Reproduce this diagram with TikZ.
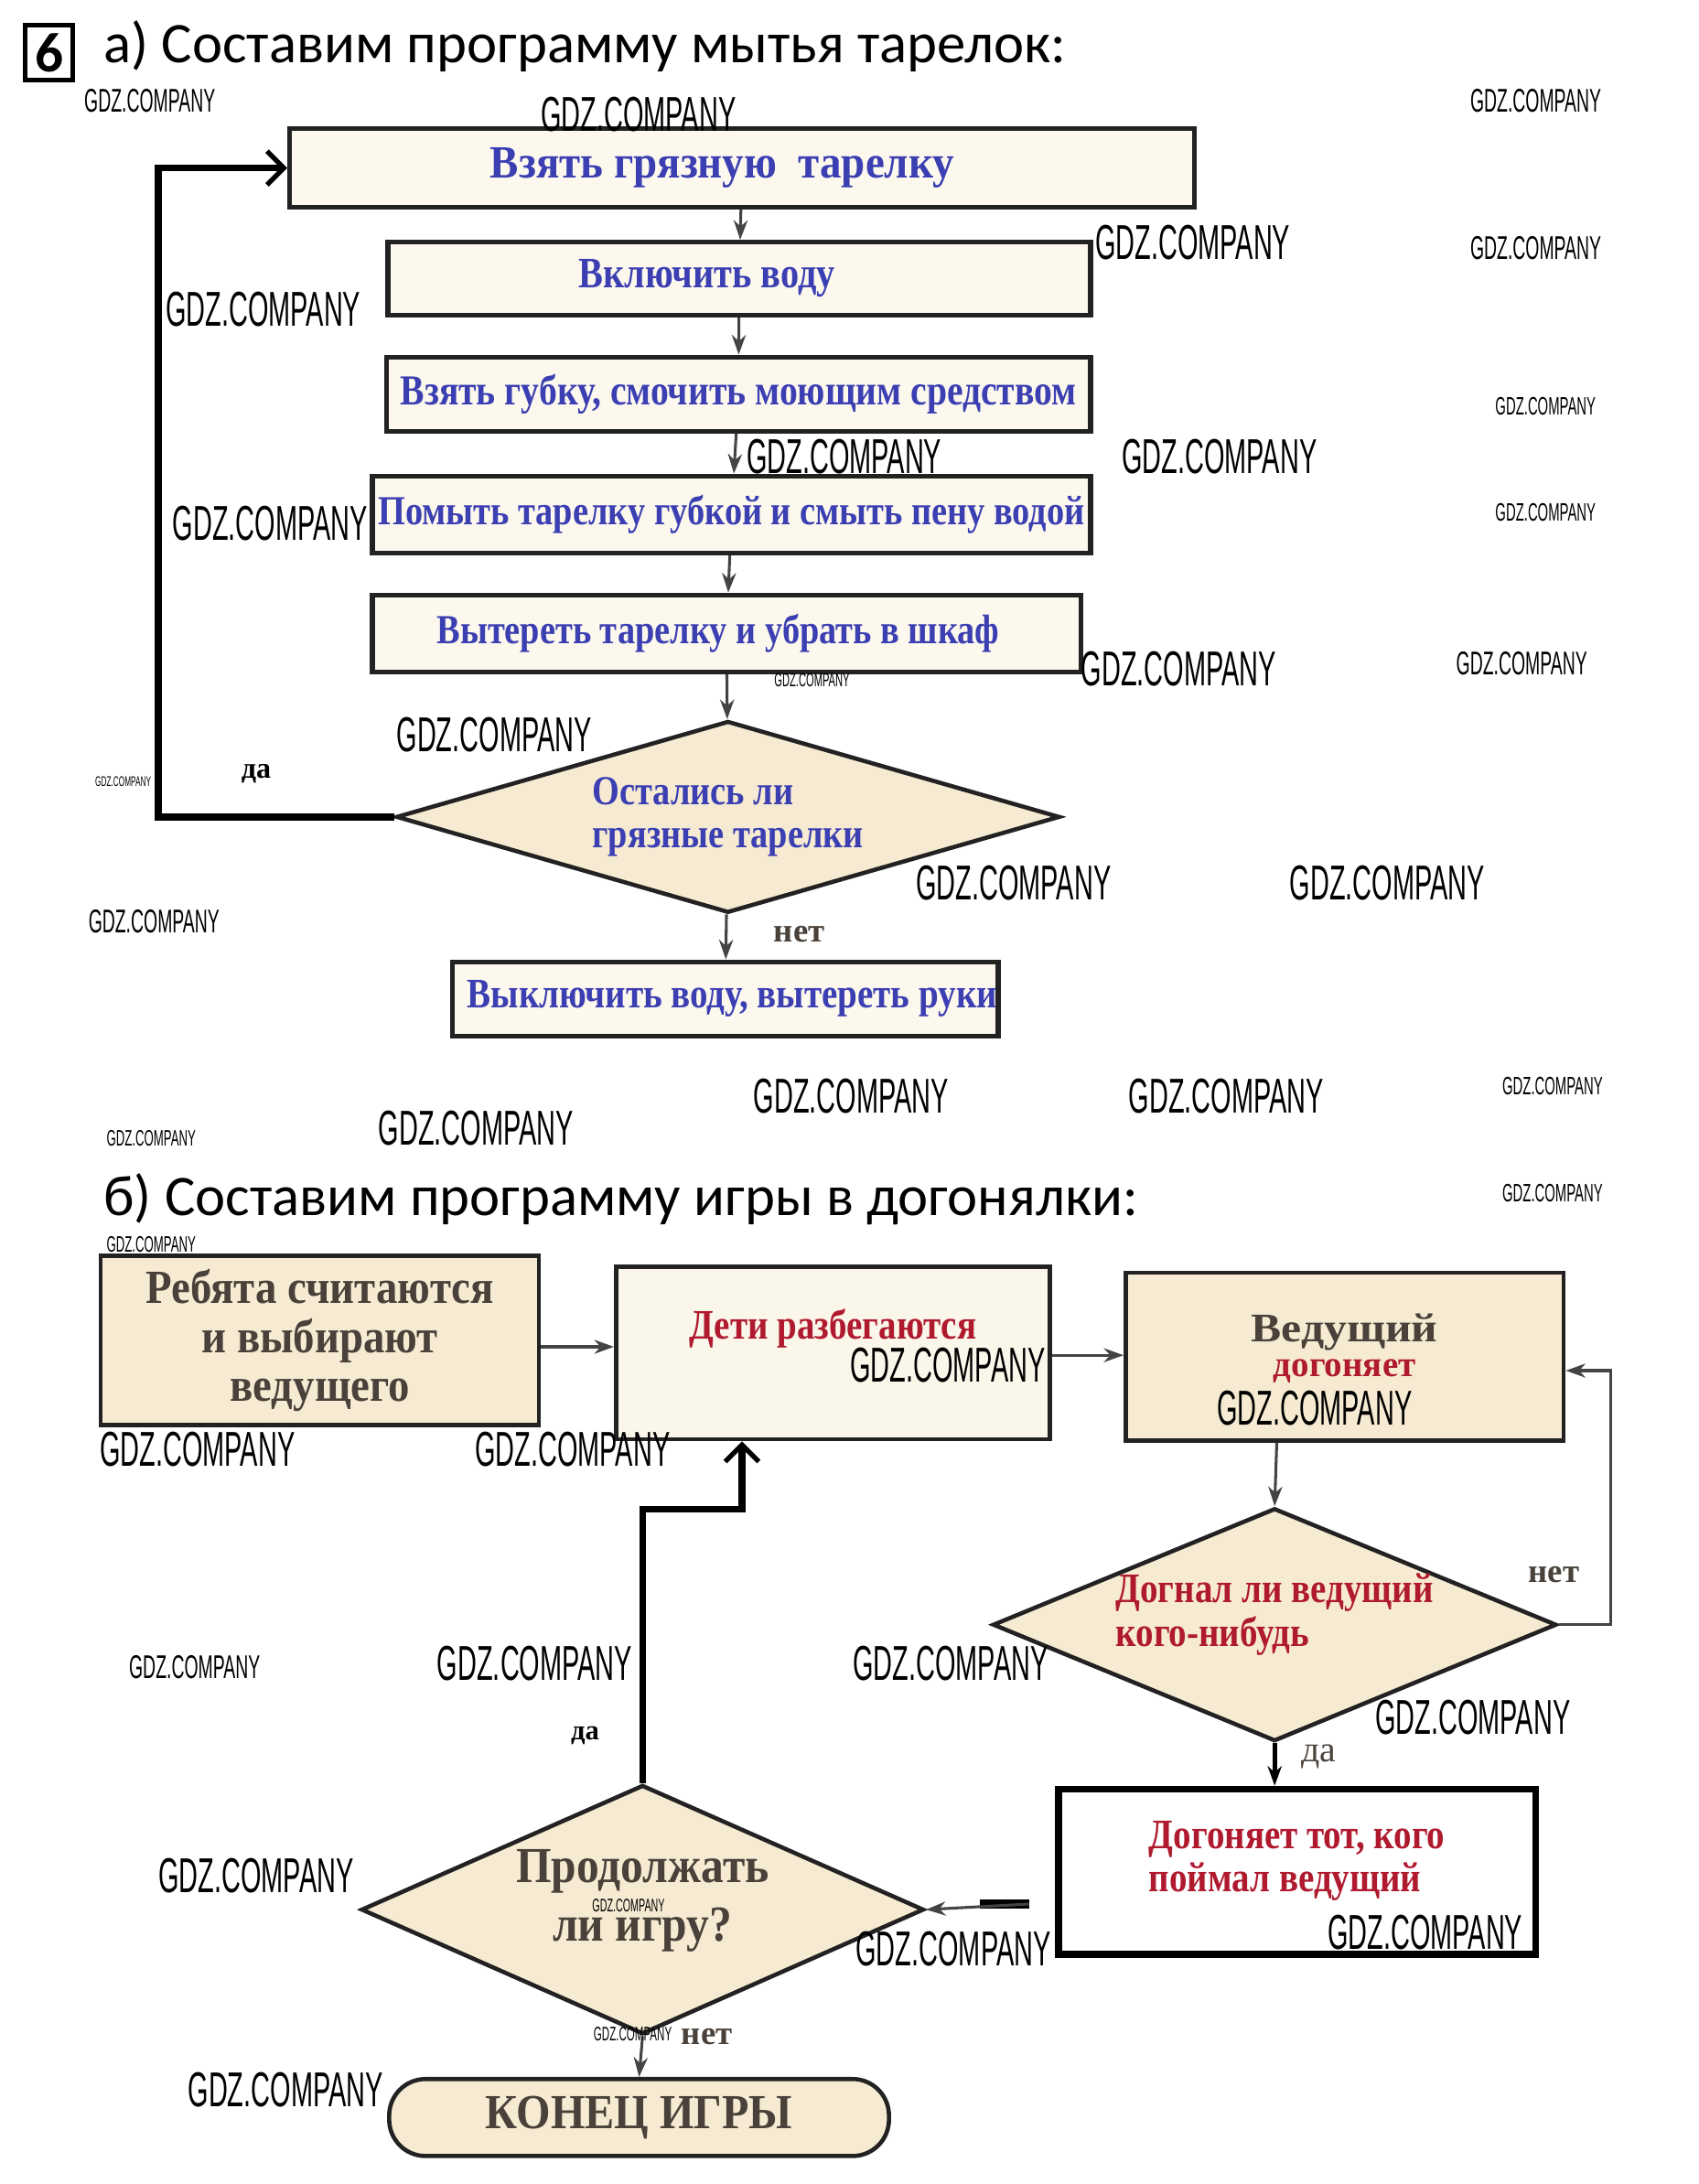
\documentclass[tikz,border=0pt]{standalone}
\usepackage{fontspec}
\setmainfont{Liberation Serif}
\newfontfamily\titlefont{Carlito}
\newfontfamily\wmfont{Liberation Sans}
\usetikzlibrary{shapes.geometric,arrows.meta}
\definecolor{bluetxt}{HTML}{3B3FB2}
\definecolor{redtxt}{HTML}{B01A2E}
\definecolor{graytxt}{HTML}{4A423A}
\definecolor{boxline}{HTML}{222222}
\definecolor{creamA}{HTML}{FCF8EE}
\definecolor{creamB}{HTML}{F6EBD2}
\definecolor{creamC}{HTML}{FBF6EA}
\definecolor{arrowgray}{HTML}{444444}
\newcommand{\cond}[2][0.85]{\scalebox{#1}[1]{#2}}
\begin{document}
\begin{tikzpicture}[x=1pt,y=-1pt,
  boxa/.style={draw=boxline, line width=3.5pt, fill=creamA, inner sep=0pt, text=bluetxt},
  boxb/.style={draw=boxline, line width=3pt, fill=creamB, inner sep=0pt, text=graytxt, align=center},
  dia/.style={shape=diamond, draw=boxline, line width=3pt, inner sep=0pt, align=left},
  flow/.style={draw=arrowgray, line width=2pt, -{Stealth[length=14pt,width=10pt]}},
  loopline/.style={draw=black, line width=5pt, line join=miter, -{Straight Barb[length=12pt,width=24pt,line width=3.5pt]}},
  lbl/.style={font=\bfseries\fontsize{24}{24}\selectfont, text=graytxt, inner sep=0pt},
  wm/.style={inner sep=0pt, text=black},
  tf/.style={font=\bfseries\fontsize{#1}{#1}\selectfont}
]
\useasboundingbox[fill=white] (0,0) rectangle (1213,1560);

% ---------- titles ----------
\node[draw, line width=3pt, minimum width=34pt, minimum height=39pt, inner sep=0pt,
      font=\titlefont\bfseries\fontsize{40}{40}\selectfont] (num) at (35,37.5) {6};
\node[anchor=base west, inner sep=0pt, font=\titlefont\fontsize{41}{44}\selectfont] (titlea) at (74,45) {а) Составим программу мытья тарелок:};
\node[anchor=base west, inner sep=0pt, font=\titlefont\fontsize{41}{44}\selectfont] (titleb) at (74,868) {б) Составим программу игры в догонялки:};

% ---------- part a ----------
\node[boxa, minimum width=646pt, minimum height=56pt, tf=33] (a1) at (530,120) {\cond[0.93]{Взять грязную\ \ тарелку}\hspace*{28pt}};
\node[boxa, minimum width=502pt, minimum height=52pt, tf=31] (a2) at (528,199) {\cond{Включить воду}\hspace*{46pt}};
\node[boxa, minimum width=503pt, minimum height=53pt, tf=30.5] (a3) at (527.5,281.5) {\cond{Взять губку, смочить моющим средством}};
\node[boxa, minimum width=513pt, minimum height=55pt, tf=29.5] (a4) at (522.5,367.5) {\cond{Помыть тарелку губкой и смыть пену водой}};
\node[boxa, minimum width=506pt, minimum height=55pt, tf=29.5] (a5) at (519,452.5) {\cond{Вытереть тарелку и убрать в шкаф}\hspace*{12pt}};
\node[dia, fill=creamB, shape aspect=3.46, minimum width=474pt, minimum height=137pt, text=bluetxt, font=\bfseries\fontsize{29.5}{31}\selectfont] (ad) at (520,583.5)
  {\cond{Остались ли}\\\cond{грязные тарелки}};
\node[boxa, minimum width=390pt, minimum height=53pt, tf=30] (a6) at (518,713.5) {\hspace*{10pt}\cond{Выключить воду, вытереть руки}};

\draw[flow] (a1) -- (a2);
\draw[flow] (a2) -- (a3);
\draw[flow] (a3) -- (a4);
\draw[flow] (a4) -- (a5);
\draw[flow] (a5) -- (ad);
\draw[flow] (ad) -- (a6);
\draw[loopline] (ad.west) -| ([xshift=-92pt]a1.west) -- (a1.west);
\node[lbl, text=black, font=\bfseries\fontsize{21}{21}\selectfont] (lda) at (183,553) {да};
\node[lbl] (lneta) at (571,667) {нет};

% ---------- part b ----------
\node[boxb, minimum width=313pt, minimum height=121pt, font=\bfseries\fontsize{34}{35}\selectfont] (bA) at (228.5,957.5)
  {\cond[0.9]{Ребята считаются}\\\cond[0.9]{и выбирают}\\\cond[0.9]{ведущего}};
\node[boxb, fill=creamC, minimum width=310pt, minimum height=123pt, text=redtxt, tf=30, text depth=42pt] (bB) at (595,966.5)
  {\cond{Дети разбегаются}};
\node[boxb, minimum width=313pt, minimum height=120pt, text depth=16pt, font=\fontsize{26}{25}\selectfont] (bC) at (960.5,969)
  {{\bfseries\fontsize{29}{29}\selectfont\cond[1.12]{Ведущий}}\\{\color{redtxt}\bfseries\fontsize{26}{26}\selectfont\cond[0.98]{догоняет}}};
\node[dia, fill=creamB, shape aspect=2.42, minimum width=399pt, minimum height=165pt, text=redtxt, text depth=21pt, font=\bfseries\fontsize{30}{31}\selectfont] (bD) at (910.5,1160.5)
  {\cond{Догнал ли ведущий}\\\cond{кого-нибудь}};
\node[draw=black, line width=5pt, fill=white, inner sep=0pt, minimum width=341pt, minimum height=118pt, text=redtxt, align=left, text depth=22pt, font=\bfseries\fontsize{30}{31}\selectfont] (bE) at (926.5,1337)
  {\cond{Догоняет тот, кого}\\\cond{поймал ведущий}};
\node[dia, fill=creamB, align=center, shape aspect=2.26, minimum width=402pt, minimum height=178pt, text=graytxt, text depth=20pt, font=\bfseries\fontsize{36}{42}\selectfont] (bF) at (459,1364)
  {\cond[0.9]{Продолжать}\\\cond[0.9]{ли игру?}};
\node[draw=boxline, line width=3pt, fill=creamB, rounded corners=26pt, inner sep=0pt, minimum width=357pt, minimum height=55pt, text=graytxt, tf=35] (bG) at (456.5,1512.5)
  {\cond[0.9]{КОНЕЦ ИГРЫ}};

\coordinate (jog) at (530,1078);
\coordinate (estart) at (735,1360);
\draw[flow] (bA.east |- 0,962) -- (bB.west |- 0,962);
\draw[flow] (bB.east |- 0,968) -- (bC.west |- 0,968);
\draw[flow] (bC.south -| 912,0) -- (bD.north);
\draw[flow] (bD.east) -- ++(37,0) |- ([yshift=-10pt]bC.east);
\draw[flow, draw=black, line width=3.5pt] (bD.south) -- (bD.south |- bE.north);
\draw[line width=7pt] (estart) -- ++(-35,0);
\draw[flow] (estart) -- (bF.east);
\draw[loopline] (bF.north) |- (jog) -- ([xshift=-65pt]bB.south);
\draw[flow] (bF.south) -- (bG.north);
\node[lbl] (lnetb) at (1110,1125) {нет};
\node[lbl, font=\fontsize{26}{26}\selectfont] (ldab) at (942,1255) {да};
\node[lbl, text=black, font=\bfseries\fontsize{20}{20}\selectfont] (ldac) at (418,1240) {да};
\node[lbl] (lnetc) at (505,1455) {нет};

% ---------- watermarks ----------
\foreach \x/\y/\s [count=\i] in {107/72/23.5, 456/82/35, 1097/72/23.5, 852/173/35, 1097/177/23.5, 188/221/35,
  1104/290/18, 603/326/35, 871/326/35, 193/374/35, 1104/366/18, 580/486/13.5, 842/478/35, 1087/474/23.5,
  353/525/35, 88/558/10, 724/631/35, 991/631/35, 110/658/23.5, 608/783/35, 876/783/35, 1109/776/18,
  108/813/16, 340/806/35, 1109/852/18, 108/889/16, 677/975/35, 141/1035/35, 409/1035/35, 939/1006/35,
  139/1191/23.5, 382/1188/35, 679/1188/35, 1052/1227/35, 183/1340/35, 449/1361/13, 681/1392/35,
  1018/1380/35, 452/1453/14, 204/1493/35}
  \node[wm, font=\wmfont\fontsize{\s}{\s}\selectfont] (wm\i) at (\x,\y) {\scalebox{0.54}[1]{GDZ.COMPANY}};
\end{tikzpicture}
\end{document}
